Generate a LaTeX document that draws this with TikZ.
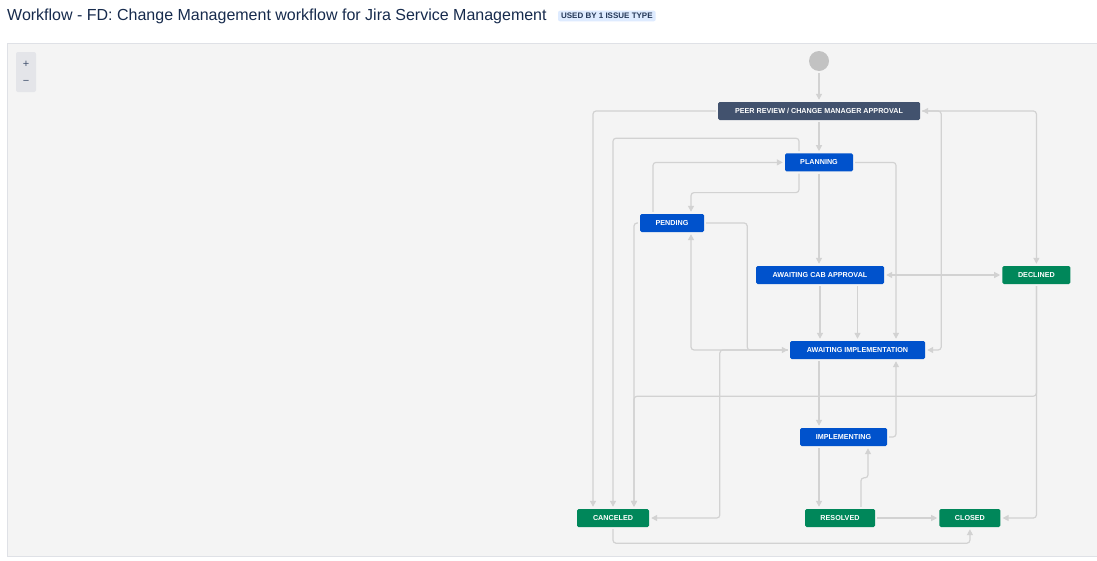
\documentclass[tikz,border=0pt]{standalone}
\usepackage{fontspec}
\setmainfont{Liberation Sans}
\usetikzlibrary{arrows.meta, positioning}

\definecolor{jtext}{HTML}{172B4D}
\definecolor{jdark}{HTML}{42526E}
\definecolor{jblue}{HTML}{0052CC}
\definecolor{jgreen}{HTML}{00875A}
\definecolor{jline}{HTML}{D2D2D2}
\definecolor{jcanvas}{HTML}{F4F4F4}
\definecolor{jborder}{HTML}{DFE1E6}
\definecolor{jbadge}{HTML}{DEEBFF}
\definecolor{jbadgetext}{HTML}{253858}
\definecolor{jzoom}{HTML}{E4E5E9}

\begin{document}
\begin{tikzpicture}[x=1pt, y=-1pt, >={Triangle[length=6pt,width=6pt]},
	status/.style={rectangle, rounded corners=1.5pt, minimum height=18pt, inner sep=0pt, text=white, font=\fontsize{7.2}{8}\selectfont\bfseries},
	todo/.style={status, fill=jdark},
	inprog/.style={status, fill=jblue},
	done/.style={status, fill=jgreen},
	begin/.style={circle, fill=black!24, minimum size=20pt, inner sep=0pt},
	flow/.style={->, draw=jline, line width=1.2pt, rounded corners=3pt, shorten <=2pt, shorten >=2pt}]
	\useasboundingbox (0,0) rectangle (1097,560);
	\fill[white] (0,0) rectangle (1097,560);
	\draw[fill=jcanvas, draw=jborder] (7,43) rectangle (1104,556);

	\node[anchor=west, inner sep=0pt, text=jtext, font=\fontsize{16}{18}\selectfont] (title) at (7,16) {Workflow - FD: Change Management workflow for Jira Service Management};
	\node[right=11pt of title, fill=jbadge, text=jbadgetext, rounded corners=2pt, inner xsep=3pt, inner ysep=2.5pt, font=\fontsize{8}{9}\selectfont\bfseries] (badge) {USED BY 1 ISSUE TYPE};
	\node[fill=jzoom, rounded corners=2pt, minimum width=20pt, minimum height=40pt] (zoom) at (26,72) {};
	\node[text=jdark, font=\fontsize{11}{11}\selectfont] (zin) at (26,64) {+};
	\node[text=jdark, font=\fontsize{11}{11}\selectfont] (zout) at (26,82) {−};

	\node[begin] (s0) at (819,61) {};
	\node[todo, minimum width=202pt] (peer) at (819,111) {PEER REVIEW / CHANGE MANAGER APPROVAL};
		\node[inprog, minimum width=68pt, below=33pt of peer] (plan) {PLANNING};
		\node[inprog, minimum width=64pt] (pend) at (672,223) {PENDING};
		\node[inprog, minimum width=128pt] (cab) at (820,275) {AWAITING CAB APPROVAL};
		\node[done, minimum width=68pt, right=118pt of cab] (decl) {DECLINED};
		\node[inprog, minimum width=135pt] (await) at (857.5,350) {AWAITING IMPLEMENTATION};
		\node[inprog, minimum width=87pt] (impl) at (843.5,437) {IMPLEMENTING};
	\node[done, minimum width=72pt] (canc) at (613,518) {CANCELED};
	\node[done, minimum width=70pt] (resol) at (840,518) {RESOLVED};
	\node[done, minimum width=61pt, right=64pt of resol] (closed) {CLOSED};

	\draw[flow] (s0) -- (peer);
	\draw[flow] (peer) -- (plan);
	\draw[flow] (peer.west) -| ([xshift=-20pt]canc.north);
	\draw[flow, <->] (peer.east) -| (decl.north);
	\draw[flow] (peer.east) -- ++(21,0) |- (await.east);

	\draw[flow] ([xshift=-20pt]plan.north) -- ++(0,-15) -| (canc.north);
	\draw[flow] ([xshift=-20pt]plan.south) -- ++(0,21) -| ([xshift=19pt]pend.north);
	\draw[flow] (plan.south) -- (plan.south |- cab.north);
	\draw[flow] (plan.east) -| ([xshift=38.5pt]await.north);

	\draw[flow] ([xshift=-19pt]pend.north) |- (plan.west);
	\draw[flow] (pend.east) -- ++(43,0) |- (await.west);
	\draw[flow] (pend.west) -| ([xshift=21pt]canc.north);

	\draw[flow] (cab.south) -- (cab.south |- await.north);
	\draw[flow] (await.north |- cab.south) -- (await.north);
	\draw[flow, <->] (cab.east) -- (decl.west);

	\draw[flow] (decl.south) -- ++(0,112) -| ([xshift=21pt]canc.north);
	\draw[flow] (decl.south) |- (closed.east);

	\draw[flow] (await.west) -| ([xshift=19pt]pend.south);
	\draw[flow] (await.west) -- ++(-70,0) |- (canc.east);
	\draw[flow] ([xshift=-38.5pt]await.south) -- ([xshift=-24.5pt]impl.north);

	\draw[flow] (impl.east) -| ([xshift=38.5pt]await.south);
	\draw[flow] ([xshift=-24.5pt]impl.south) -- ([xshift=-21pt]resol.north);
	\draw[flow] ([xshift=21pt]resol.north) -- ++(0,-31) -| ([xshift=24.5pt]impl.south);
	\draw[flow] (resol) -- (closed);
	\draw[flow] (canc.south) -- ++(0,16) -| (closed.south);
\end{tikzpicture}
\end{document}
